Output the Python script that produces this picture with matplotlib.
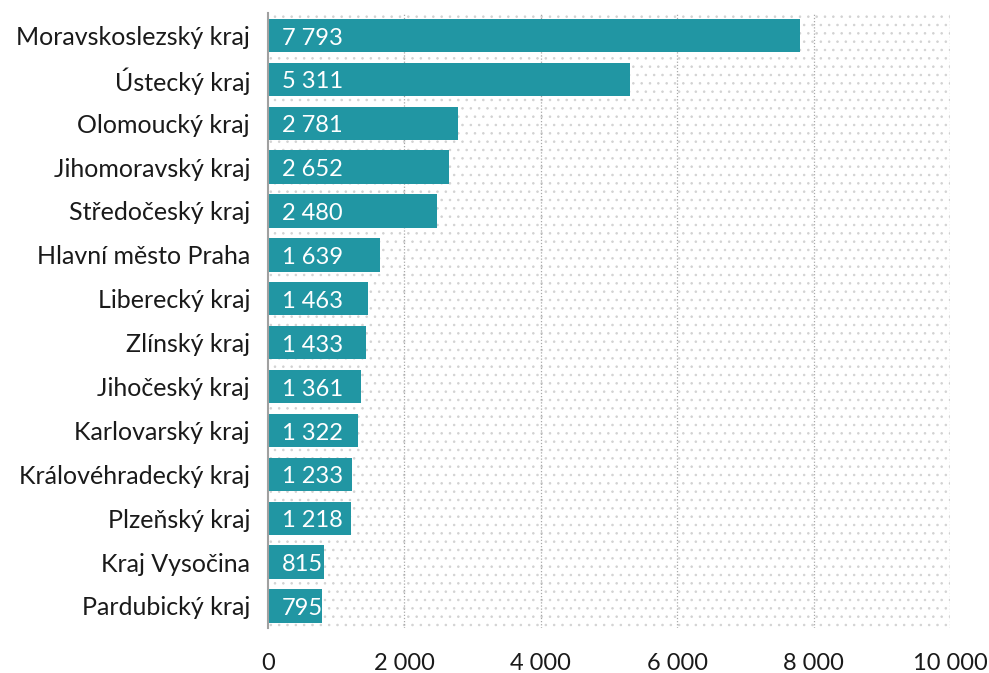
import matplotlib
matplotlib.use("Agg")
import matplotlib.pyplot as plt
from matplotlib.patches import Rectangle

regions = ["Moravskoslezský kraj", "Ústecký kraj", "Olomoucký kraj", "Jihomoravský kraj",
           "Středočeský kraj", "Hlavní město Praha", "Liberecký kraj", "Zlínský kraj",
           "Jihočeský kraj", "Karlovarský kraj", "Královéhradecký kraj", "Plzeňský kraj",
           "Kraj Vysočina", "Pardubický kraj"]
values = [7793, 5311, 2781, 2652, 2480, 1639, 1463, 1433, 1361, 1322, 1233, 1218, 815, 795]
xticks = [0, 2000, 4000, 6000, 8000, 10000]

def fmt(v):
    return f"{v:,}".replace(",", " ")

plt.rcParams['font.family'] = ['Lato', 'DejaVu Sans']
plt.rcParams['hatch.linewidth'] = 0.6
fig = plt.figure(figsize=(9.89, 6.73), dpi=100)
ax = fig.add_axes([0.271, 0.067, 0.6896, 0.913])

ax.set_xlim(0, 10000)
ax.set_ylim(len(regions) - 0.5, -0.5)

bg = Rectangle((0, 0), 1, 1, transform=ax.transAxes, facecolor='white',
               edgecolor='#d2d2d2', linewidth=0, hatch='..', zorder=0)
ax.add_patch(bg)

for x in xticks[1:]:
    ax.axvline(x, color='#a8a8a8', linestyle=(0, (1, 1.5)), linewidth=0.9, zorder=1)

ypos = list(range(len(regions)))
ax.barh(ypos, values, height=0.76, color='#2196a3', zorder=2)
for y, v in zip(ypos, values):
    ax.text(200, y + 0.06, fmt(v), color='white', va='center', ha='left', fontsize=17, zorder=3)

ax.set_yticks(ypos)
ax.set_yticklabels(regions, fontsize=18, color='#1a1a1a')
ax.set_xticks(xticks)
ax.set_xticklabels([fmt(x) for x in xticks], fontsize=17, color='#1a1a1a')
ax.tick_params(axis='both', length=0)
ax.tick_params(axis='x', pad=18)
ax.tick_params(axis='y', pad=13)
for s in ['top', 'right', 'bottom']:
    ax.spines[s].set_visible(False)
ax.spines['left'].set_color('#a0a0a0')
ax.spines['left'].set_linewidth(1.5)
ax.set_facecolor('white')

fig.savefig('out.png', dpi=100)
